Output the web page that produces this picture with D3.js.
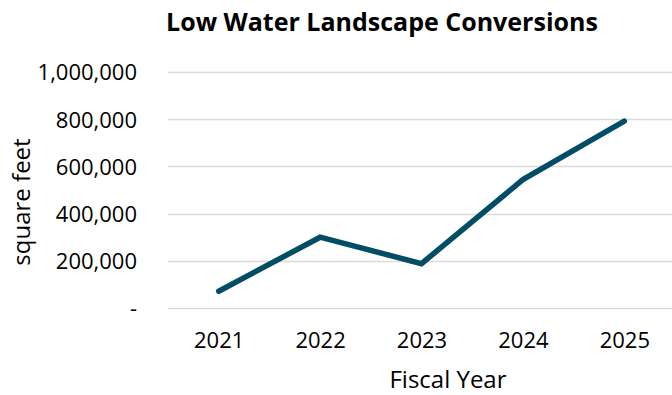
<!DOCTYPE html>
<html>
<head>
<meta charset="utf-8">
<script src="https://cdn.jsdelivr.net/npm/d3@7"></script>
<style>
  html, body { margin: 0; padding: 0; background: #fff; }
  svg { display: block; font-family: "Open Sans", "Noto Sans", sans-serif; }
</style>
</head>
<body>
<svg id="chart" width="672" height="395"></svg>
<script>
// Fiscal years and converted landscape area (square feet)
const years = ["2021", "2022", "2023", "2024", "2025"];
const sqft = [71000, 300000, 188000, 544000, 792000];
const yTicks = [0, 200000, 400000, 600000, 800000, 1000000];

const width = 672, height = 395;
const margin = { top: 72, right: -3, bottom: 87, left: 168 };

const svg = d3.select("#chart");

const x = d3.scalePoint()
  .domain(years)
  .range([margin.left, width - margin.right])
  .padding(0.5);

const y = d3.scaleLinear()
  .domain([0, 1000000])
  .range([height - margin.bottom, margin.top]);

// Horizontal gridlines
svg.append("g")
  .selectAll("line")
  .data(yTicks)
  .join("line")
  .attr("x1", margin.left)
  .attr("x2", width)
  .attr("y1", d => Math.round(y(d)) + 0.5)
  .attr("y2", d => Math.round(y(d)) + 0.5)
  .attr("stroke", "#d9d9d9")
  .attr("stroke-width", 1.5);

// Y axis labels
const fmt = d3.format(",");
const yAxis = d3.axisLeft(y)
  .tickValues(yTicks)
  .tickSize(0)
  .tickPadding(0)
  .tickFormat(d => d === 0 ? "-" : fmt(d));
const gy = svg.append("g")
  .attr("transform", `translate(137,0)`)
  .call(yAxis);
gy.select(".domain").remove();
gy.selectAll("text")
  .attr("font-size", 22)
  .attr("fill", "#000")
  .attr("font-family", "'Open Sans', sans-serif")
  .attr("dy", "0.36em");

// X axis labels
const xAxis = d3.axisBottom(x).tickSize(0).tickPadding(0);
const gx = svg.append("g")
  .attr("transform", `translate(0,332)`)
  .call(xAxis);
gx.select(".domain").remove();
gx.selectAll("text")
  .attr("font-size", 22)
  .attr("fill", "#000")
  .attr("font-family", "'Open Sans', sans-serif")
  .attr("dy", "0.71em");

// Line
const line = d3.line()
  .x((d, i) => x(years[i]))
  .y(d => y(d));
svg.append("path")
  .datum(sqft)
  .attr("d", line)
  .attr("fill", "none")
  .attr("stroke", "#014d66")
  .attr("stroke-width", 5.5)
  .attr("stroke-linecap", "round")
  .attr("stroke-linejoin", "miter");

// Title
svg.append("text")
  .attr("x", 382)
  .attr("y", 31)
  .attr("text-anchor", "middle")
  .attr("font-size", 25)
  .attr("font-weight", "bold")
  .attr("fill", "#000")
  .text("Low Water Landscape Conversions");

// Axis titles
svg.append("text")
  .attr("x", 448)
  .attr("y", 388)
  .attr("text-anchor", "middle")
  .attr("font-size", 24)
  .attr("fill", "#000")
  .text("Fiscal Year");

svg.append("text")
  .attr("transform", "translate(30,202) rotate(-90)")
  .attr("text-anchor", "middle")
  .attr("font-size", 24)
  .attr("fill", "#000")
  .text("square feet");
</script>
</body>
</html>
